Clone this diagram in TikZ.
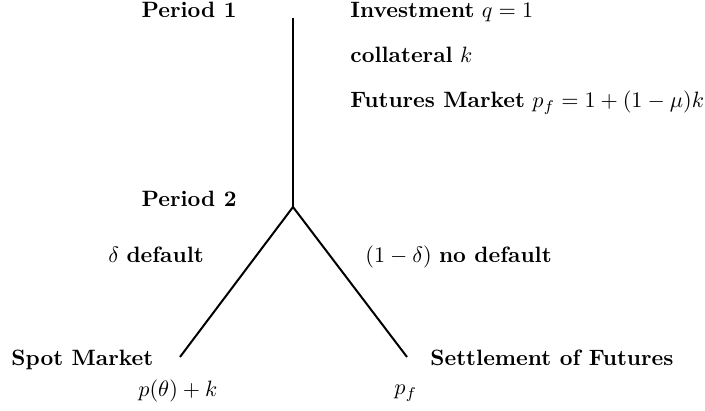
\documentclass[tikz,border=0pt]{standalone}
\usepackage{xcolor}
\usepackage{tikz}
\usetikzlibrary{positioning}
\tikzset{
  tlabel/.style={inner sep=0pt, anchor=base west},
  tlabelr/.style={inner sep=0pt, anchor=base east},
  tbranch/.style={line width=0.9pt}
}

\begin{document}
\begin{tikzpicture}[x=0.4505pt,y=-0.4505pt]
\useasboundingbox (0,0) rectangle (705,411);
\coordinate (top) at (293,18);
\coordinate (fork) at (293,207);
\coordinate (spotend) at (180,357);
\coordinate (settleend) at (407,357);

\node[tlabelr] (per1) at (237,18) {\textbf{Period 1}};
\node[tlabel] (inv) at (350,18) {\textbf{Investment} $q=1$};
\node[tlabel] (coll) at (350,63) {\textbf{collateral} $k$};
\node[tlabel] (fut) at (350,108) {\textbf{Futures Market} $p_f=1+(1-\mu)k$};
\node[tlabelr] (per2) at (237,207) {\textbf{Period 2}};
\node[tlabel] (dflt) at (108,263) {$\delta$ \textbf{default}};
\node[tlabel] (nodflt) at (365,263) {$(1-\delta)$ \textbf{no default}};
\node[tlabel] (spot) at (11,366) {\textbf{Spot Market}};
\node[tlabel] (settle) at (430,366) {\textbf{Settlement of Futures}};
\node[tlabel] (spotp) at (138,397) {$p(\theta)+k$};
\node[tlabel] (settlep) at (394,395) {$p_f$};

\draw[tbranch] (top) -- (fork);
\draw[tbranch] (fork) -- (spotend);
\draw[tbranch] (fork) -- (settleend);
\end{tikzpicture}
\end{document}
